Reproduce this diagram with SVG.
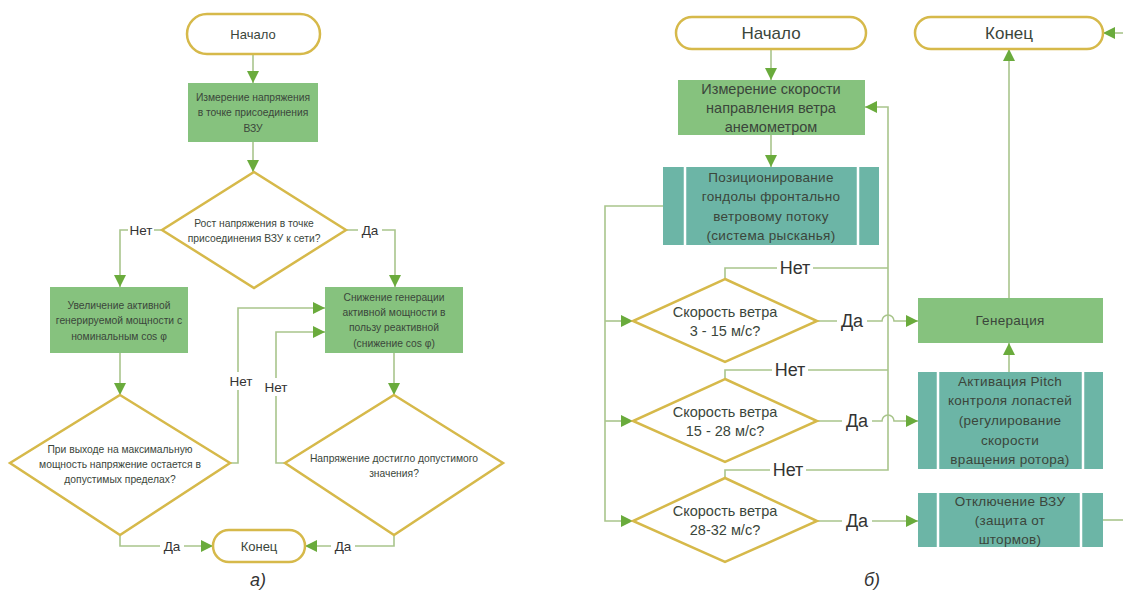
<svg xmlns="http://www.w3.org/2000/svg" width="1123" height="593" viewBox="0 0 1123 593">
  <style>
    .term { fill: #ffffff; stroke: #d6b94a; stroke-width: 2.5; }
    .dia { fill: #ffffff; stroke: #d6b94a; stroke-width: 2.5; }
    .proc { fill: #86c27e; }
    .pre { fill: #6cb5a6; }
    .sep { stroke: #ffffff; stroke-width: 2.5; }
    .conn { fill: none; stroke: #a9c58c; stroke-width: 1.6; }
    .t { font-family: "Liberation Sans", "Noto Sans", Arial, sans-serif; fill: #3b463b; text-anchor: middle; dominant-baseline: central; }
    .s9 { font-size: 10.3px; }
    .s12 { font-size: 13.5px; letter-spacing: 0.3px; }
    .s13 { font-size: 13px; }
    .s14 { font-size: 14.5px; }
    .s17 { font-size: 17px; }
    .lbl { font-family: "Liberation Sans", "Noto Sans", Arial, sans-serif; fill: #333333; text-anchor: middle; dominant-baseline: central; }
    .bg { fill: #ffffff; }
    .cap { font-family: "Liberation Sans", Arial, sans-serif; font-style: italic; font-size: 18px; fill: #333333; text-anchor: middle; }
  </style>
  <defs>
    <marker id="arr" viewBox="0 0 12 12" refX="12" refY="6" markerWidth="12" markerHeight="12" markerUnits="userSpaceOnUse" orient="auto">
      <path d="M0,0 L12,6 L0,12 Z" fill="#6aab3c"/>
    </marker>
  </defs>

  <rect width="1123" height="593" fill="#ffffff"/>

  <!-- connectors -->
  <g id="connectors">
    <!-- scheme a -->
    <path class="conn" d="M253,54 V83" marker-end="url(#arr)"/>
    <path class="conn" d="M253,142 V172" marker-end="url(#arr)"/>
    <path class="conn" d="M162,230 H120 V287" marker-end="url(#arr)"/>
    <path class="conn" d="M347,230 H395 V287" marker-end="url(#arr)"/>
    <path class="conn" d="M120,353 V395" marker-end="url(#arr)"/>
    <path class="conn" d="M394,353 V395" marker-end="url(#arr)"/>
    <path class="conn" d="M230,463 H238 V308 H325" marker-end="url(#arr)"/>
    <path class="conn" d="M285,463 H276 V332 H325" marker-end="url(#arr)"/>
    <path class="conn" d="M120,535 V546 H213" marker-end="url(#arr)"/>
    <path class="conn" d="M394,535 V546 H305" marker-end="url(#arr)"/>

    <!-- scheme b -->
    <path class="conn" d="M771,49 V80" marker-end="url(#arr)"/>
    <path class="conn" d="M771,135 V167" marker-end="url(#arr)"/>
    <path class="conn" d="M663,206 H605 V521 H633" marker-end="url(#arr)"/>
    <path class="conn" d="M605,321 H633" marker-end="url(#arr)"/>
    <path class="conn" d="M605,421 H633" marker-end="url(#arr)"/>
    <path class="conn" d="M725,279 V268 H888"/>
    <path class="conn" d="M725,379 V370 H888"/>
    <path class="conn" d="M725,478 V470 H888 V107 H865" marker-end="url(#arr)"/>
    <path class="conn" d="M817,321 H882 A6,6 0 0 1 894,321 H918" marker-end="url(#arr)"/>
    <path class="conn" d="M817,421 H882 A6,6 0 0 1 894,421 H918" marker-end="url(#arr)"/>
    <path class="conn" d="M817,521 H918" marker-end="url(#arr)"/>
    <path class="conn" d="M1009,298 V49" marker-end="url(#arr)"/>
    <path class="conn" d="M1009,372 V343" marker-end="url(#arr)"/>
    <path class="conn" d="M1103,520 H1123"/>
    <path class="conn" d="M1123,33 H1103" marker-end="url(#arr)"/>

    <!-- branch labels -->
    <rect class="bg" x="128" y="222" width="26" height="16"/>
    <text class="lbl" x="141" y="230" font-size="13.5">Нет</text>
    <rect class="bg" x="358" y="222" width="24" height="16"/>
    <text class="lbl" x="370" y="230" font-size="13.5">Да</text>
    <rect class="bg" x="228" y="372" width="26" height="18"/>
    <text class="lbl" x="241" y="381" font-size="13.5">Нет</text>
    <rect class="bg" x="263" y="378" width="26" height="18"/>
    <text class="lbl" x="276" y="387" font-size="13.5">Нет</text>
    <rect class="bg" x="160" y="538" width="24" height="16"/>
    <text class="lbl" x="172" y="546" font-size="13.5">Да</text>
    <rect class="bg" x="331" y="538" width="24" height="16"/>
    <text class="lbl" x="343" y="546" font-size="13.5">Да</text>

    <rect class="bg" x="777" y="258" width="36" height="20"/>
    <text class="lbl" x="795" y="268" font-size="18">Нет</text>
    <rect class="bg" x="772" y="360" width="36" height="20"/>
    <text class="lbl" x="790" y="370" font-size="18">Нет</text>
    <rect class="bg" x="770" y="460" width="36" height="20"/>
    <text class="lbl" x="788" y="470" font-size="18">Нет</text>
    <rect class="bg" x="837" y="311" width="30" height="20"/>
    <text class="lbl" x="852" y="321" font-size="18">Да</text>
    <rect class="bg" x="842" y="411" width="30" height="20"/>
    <text class="lbl" x="857" y="421" font-size="18">Да</text>
    <rect class="bg" x="842" y="511" width="30" height="20"/>
    <text class="lbl" x="857" y="521" font-size="18">Да</text>
  </g>

  <!-- scheme a nodes -->
  <g id="a-start">
    <rect class="term" x="187" y="14" width="133" height="40" rx="20"/>
    <text class="t s13" x="253" y="34">Начало</text>
  </g>
  <g id="a-measure">
    <rect class="proc" x="188" y="83" width="130" height="59"/>
    <text class="t s9" x="253" y="97">Измерение напряжения</text>
    <text class="t s9" x="253" y="112">в точке присоединения</text>
    <text class="t s9" x="253" y="128">ВЗУ</text>
  </g>
  <g id="a-check-rise">
    <polygon class="dia" points="254,172 346,230 254,288 162,230"/>
    <text class="t s9" x="254" y="223">Рост напряжения в точке</text>
    <text class="t s9" x="254" y="238">присоединения ВЗУ к сети?</text>
  </g>
  <g id="a-increase">
    <rect class="proc" x="50" y="287" width="138" height="66"/>
    <text class="t s9" x="119" y="305">Увеличение активной</text>
    <text class="t s9" x="119" y="320">генерируемой мощности с</text>
    <text class="t s9" x="119" y="336">номинальным cos φ</text>
  </g>
  <g id="a-reduce">
    <rect class="proc" x="325" y="287" width="138" height="66"/>
    <text class="t s9" x="394" y="297">Снижение генерации</text>
    <text class="t s9" x="394" y="312">активной мощности в</text>
    <text class="t s9" x="394" y="327">пользу реактивной</text>
    <text class="t s9" x="394" y="343">(снижение cos φ)</text>
  </g>
  <g id="a-check-limits">
    <polygon class="dia" points="120,395 230,463 120,535 10,463"/>
    <text class="t s9" x="120" y="449">При выходе на максимальную</text>
    <text class="t s9" x="120" y="464">мощность напряжение остается в</text>
    <text class="t s9" x="120" y="479">допустимых пределах?</text>
  </g>
  <g id="a-check-reached">
    <polygon class="dia" points="394,395 503,463 394,535 285,463"/>
    <text class="t s9" x="394" y="458">Напряжение достигло допустимого</text>
    <text class="t s9" x="394" y="473">значения?</text>
  </g>
  <g id="a-end">
    <rect class="term" x="213" y="530" width="92" height="32" rx="16"/>
    <text class="t s13" x="259" y="546">Конец</text>
  </g>
  <text class="cap" x="258" y="586">а)</text>

  <!-- scheme b nodes -->
  <g id="b-start">
    <rect class="term" x="676" y="17" width="190" height="32" rx="16"/>
    <text class="t s17" x="771" y="33">Начало</text>
  </g>
  <g id="b-end">
    <rect class="term" x="915" y="17" width="188" height="32" rx="16"/>
    <text class="t s17" x="1009" y="33">Конец</text>
  </g>
  <g id="b-measure">
    <rect class="proc" x="678" y="80" width="187" height="55"/>
    <text class="t s14" x="771" y="89">Измерение скорости</text>
    <text class="t s14" x="771" y="108">направления ветра</text>
    <text class="t s14" x="771" y="127">анемометром</text>
  </g>
  <g id="b-yaw">
    <rect class="pre" x="663" y="167" width="216" height="78"/>
    <line class="sep" x1="685" y1="167" x2="685" y2="245"/>
    <line class="sep" x1="858" y1="167" x2="858" y2="245"/>
    <text class="t s12" x="771" y="177">Позиционирование</text>
    <text class="t s12" x="771" y="196">гондолы фронтально</text>
    <text class="t s12" x="771" y="216">ветровому потоку</text>
    <text class="t s12" x="771" y="235">(система рысканья)</text>
  </g>
  <g id="b-wind-3-15">
    <polygon class="dia" points="725,279 817,321 725,362 633,321"/>
    <text class="t s14" x="725" y="312">Скорость ветра</text>
    <text class="t s14" x="725" y="331">3 - 15 м/с?</text>
  </g>
  <g id="b-wind-15-28">
    <polygon class="dia" points="725,379 817,421 725,462 633,421"/>
    <text class="t s14" x="725" y="412">Скорость ветра</text>
    <text class="t s14" x="725" y="431">15 - 28 м/с?</text>
  </g>
  <g id="b-wind-28-32">
    <polygon class="dia" points="725,478 817,521 725,562 633,521"/>
    <text class="t s14" x="725" y="511">Скорость ветра</text>
    <text class="t s14" x="725" y="530">28-32 м/с?</text>
  </g>
  <g id="b-generation">
    <rect class="proc" x="918" y="298" width="185" height="45"/>
    <text class="t s12" x="1010" y="320">Генерация</text>
  </g>
  <g id="b-pitch">
    <rect class="pre" x="918" y="372" width="185" height="97"/>
    <line class="sep" x1="938" y1="372" x2="938" y2="469"/>
    <line class="sep" x1="1083" y1="372" x2="1083" y2="469"/>
    <text class="t s12" x="1010" y="381">Активация Pitch</text>
    <text class="t s12" x="1010" y="400">контроля лопастей</text>
    <text class="t s12" x="1010" y="420">(регулирование</text>
    <text class="t s12" x="1010" y="440">скорости</text>
    <text class="t s12" x="1010" y="459">вращения ротора)</text>
  </g>
  <g id="b-shutdown">
    <rect class="pre" x="918" y="493" width="185" height="54"/>
    <line class="sep" x1="938" y1="493" x2="938" y2="547"/>
    <line class="sep" x1="1081" y1="493" x2="1081" y2="547"/>
    <text class="t s12" x="1010" y="501">Отключение ВЗУ</text>
    <text class="t s12" x="1010" y="520">(защита от</text>
    <text class="t s12" x="1010" y="539">штормов)</text>
  </g>
  <text class="cap" x="872" y="586">б)</text>
</svg>
